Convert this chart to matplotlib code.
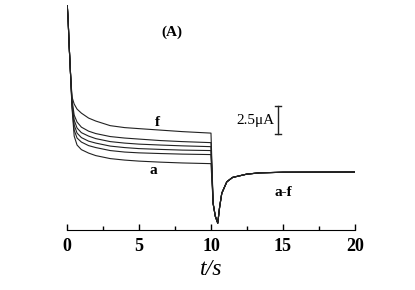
import numpy as np
import matplotlib.pyplot as plt
from matplotlib.ticker import MultipleLocator

# time points for the first step (0-10 s)
t_step = [0.0, 0.08, 0.15, 0.25, 0.35, 0.5, 0.7, 1.0, 1.5, 2.0, 3.0, 4.0, 5.0, 6.5, 8.0, 10.0]

# current (uA, relative to final baseline) for curves a-f
i_a = [15.0, 13.3, 11.1, 8.5, 5.62, 3.18, 2.40, 2.00, 1.70, 1.48, 1.22, 1.09, 1.00, 0.91, 0.84, 0.78]
i_b = [15.0, 13.3, 11.1, 8.5, 5.79, 3.70, 3.01, 2.66, 2.35, 2.18, 1.92, 1.79, 1.72, 1.66, 1.61, 1.57]
i_c = [15.0, 13.3, 11.1, 8.5, 5.97, 4.14, 3.44, 3.05, 2.74, 2.57, 2.31, 2.18, 2.09, 2.02, 1.96, 1.92]
i_d = [15.0, 13.3, 11.1, 8.5, 6.14, 4.57, 3.88, 3.48, 3.18, 2.96, 2.70, 2.57, 2.48, 2.40, 2.33, 2.26]
i_e = [15.0, 13.3, 11.1, 8.5, 6.32, 5.01, 4.40, 3.96, 3.61, 3.40, 3.14, 3.01, 2.92, 2.79, 2.70, 2.61]
i_f = [15.0, 13.3, 11.1, 8.5, 6.58, 5.97, 5.53, 5.18, 4.75, 4.49, 4.09, 3.92, 3.83, 3.70, 3.57, 3.44]
curves = [i_a, i_b, i_c, i_d, i_e, i_f]

# second step (10-20 s), same for all curves
t_back = [10.15, 10.3, 10.47, 10.6, 10.75, 11.1, 11.5, 12.5, 13.4, 15.0, 20.0]
i_back = [-2.7, -3.8, -4.4, -3.0, -1.8, -0.8, -0.42, -0.13, -0.02, 0.03, 0.05]

serif = 'Liberation Serif'

fig = plt.figure(figsize=(4.15, 2.9), dpi=100)
ax = fig.add_axes([0.1614, 0.2069, 0.694, 0.7759])

for cur in curves:
    ax.plot(t_step + t_back, cur + i_back, color='#222222', lw=0.8)

ax.set_xlim(0, 20)
ax.set_ylim(-5.0, 14.6)

# only the bottom axis is shown
for s in ['left', 'right', 'top']:
    ax.spines[s].set_visible(False)
ax.set_yticks([])
ax.xaxis.set_major_locator(MultipleLocator(5))
ax.xaxis.set_minor_locator(MultipleLocator(2.5))
ax.tick_params(axis='x', which='major', direction='in', length=4, width=1, pad=6)
ax.tick_params(axis='x', which='minor', direction='in', length=3, width=1)
for lab in ax.get_xticklabels():
    lab.set_fontfamily(serif)
    lab.set_fontweight('bold')
    lab.set_fontsize(13)

ax.set_xlabel('t/s', fontfamily=serif, fontstyle='italic', fontsize=17, labelpad=3)

# annotations
ax.text(7.29, 12.24, '(A)', fontfamily=serif, fontweight='bold', fontsize=11, ha='center', va='center')
ax.text(6.25, 4.40, 'f', fontfamily=serif, fontweight='bold', fontsize=11, ha='center', va='center')
ax.text(5.97, 0.22, 'a', fontfamily=serif, fontweight='bold', fontsize=11, ha='center', va='center')
ax.text(15.0, -1.70, 'a-f', fontfamily=serif, fontweight='bold', fontsize=11, ha='center', va='center')

# scale bar 2.5 uA
bar_t = 14.65
bar_lo, bar_hi = 3.33, 5.83
ax.plot([bar_t, bar_t], [bar_lo, bar_hi], color='#222222', lw=1)
ax.plot([bar_t - 0.2, bar_t + 0.2], [bar_lo, bar_lo], color='#222222', lw=1)
ax.plot([bar_t - 0.2, bar_t + 0.2], [bar_hi, bar_hi], color='#222222', lw=1)
ax.text(14.4, 4.57, '2.5\u03bcA', fontfamily=serif, fontsize=11, ha='right', va='center')

fig.savefig('out.png', dpi=100)
